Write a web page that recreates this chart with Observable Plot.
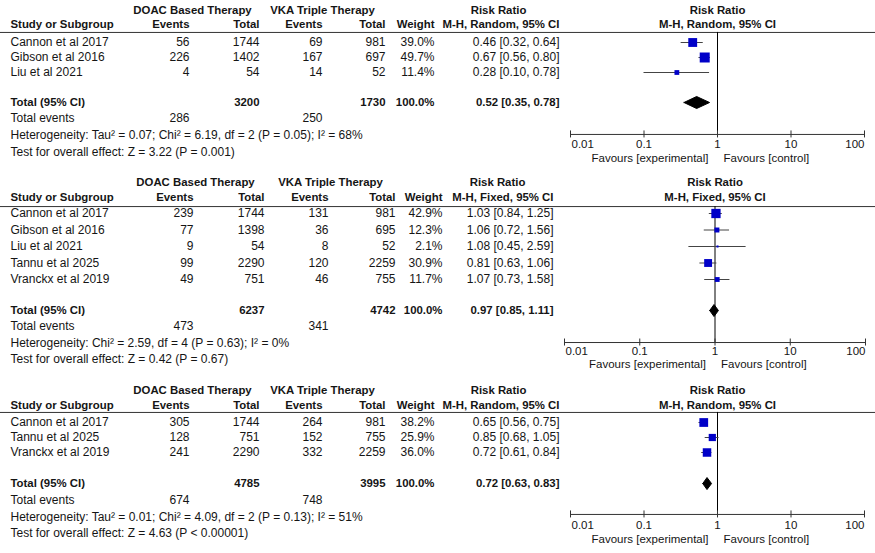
<!DOCTYPE html>
<html><head><meta charset="utf-8">
<script src="https://cdn.jsdelivr.net/npm/d3@7"></script>
<script src="https://cdn.jsdelivr.net/npm/@observablehq/plot@0.6"></script>
<style>
body{margin:0;background:#fff;}
#chart svg{display:block;}
</style></head><body><div id="chart"></div>
<script>
// ---------- shared labels ----------
const groupLabels = ["DOAC Based Therapy", "VKA Triple Therapy"];
const colHeaders = ["Study or Subgroup", "Events", "Total", "Events", "Total", "Weight"];
const rrLabel = "Risk Ratio";
const tickValues = [0.01, 0.1, 1, 10, 100];
const favourLabels = ["Favours [experimental]", "Favours [control]"];

// ---------- panel 1 ----------
const p1Studies = ["Cannon et al 2017", "Gibson et al 2016", "Liu et al 2021"];
const p1ExpEvents = [56, 226, 4];
const p1ExpTotal = [1744, 1402, 54];
const p1CtlEvents = [69, 167, 14];
const p1CtlTotal = [981, 697, 52];
const p1Weight = [39.0, 49.7, 11.4];
const p1RR = [0.46, 0.67, 0.28];
const p1Lo = [0.32, 0.56, 0.10];
const p1Hi = [0.64, 0.80, 0.78];
const p1Totals = [3200, 1730, 100.0];
const p1Pooled = [0.52, 0.35, 0.78];
const p1TotalEvents = [286, 250];
const p1Method = "M-H, Random, 95% CI";
const p1Het = "Heterogeneity: Tau² = 0.07; Chi² = 6.19, df = 2 (P = 0.05); I² = 68%";
const p1Test = "Test for overall effect: Z = 3.22 (P = 0.001)";

// ---------- panel 2 ----------
const p2Studies = ["Cannon et al 2017", "Gibson et al 2016", "Liu et al 2021", "Tannu et al 2025", "Vranckx et al 2019"];
const p2ExpEvents = [239, 77, 9, 99, 49];
const p2ExpTotal = [1744, 1398, 54, 2290, 751];
const p2CtlEvents = [131, 36, 8, 120, 46];
const p2CtlTotal = [981, 695, 52, 2259, 755];
const p2Weight = [42.9, 12.3, 2.1, 30.9, 11.7];
const p2RR = [1.03, 1.06, 1.08, 0.81, 1.07];
const p2Lo = [0.84, 0.72, 0.45, 0.63, 0.73];
const p2Hi = [1.25, 1.56, 2.59, 1.06, 1.58];
const p2Totals = [6237, 4742, 100.0];
const p2Pooled = [0.97, 0.85, 1.11];
const p2TotalEvents = [473, 341];
const p2Method = "M-H, Fixed, 95% CI";
const p2Het = "Heterogeneity: Chi² = 2.59, df = 4 (P = 0.63); I² = 0%";
const p2Test = "Test for overall effect: Z = 0.42 (P = 0.67)";

// ---------- panel 3 ----------
const p3Studies = ["Cannon et al 2017", "Tannu et al 2025", "Vranckx et al 2019"];
const p3ExpEvents = [305, 128, 241];
const p3ExpTotal = [1744, 751, 2290];
const p3CtlEvents = [264, 152, 332];
const p3CtlTotal = [981, 755, 2259];
const p3Weight = [38.2, 25.9, 36.0];
const p3RR = [0.65, 0.85, 0.72];
const p3Lo = [0.56, 0.68, 0.61];
const p3Hi = [0.75, 1.05, 0.84];
const p3Totals = [4785, 3995, 100.0];
const p3Pooled = [0.72, 0.63, 0.83];
const p3TotalEvents = [674, 748];
const p3Method = "M-H, Random, 95% CI";
const p3Het = "Heterogeneity: Tau² = 0.01; Chi² = 4.09, df = 2 (P = 0.13); I² = 51%";
const p3Test = "Test for overall effect: Z = 4.63 (P < 0.00001)";

const FONT = "'Liberation Sans', Arial, Helvetica, sans-serif";
const INK = "#151515";

function forestPanel(d) {
  const rows = d.studies.map((s, i) => ({
    i, s, ee: d.expEvents[i], et: d.expTotal[i], ce: d.ctlEvents[i], ct: d.ctlTotal[i],
    w: d.weight[i], rr: d.rr[i], lo: d.lo[i], hi: d.hi[i]
  }));
  const L = d.layout, C = d.cols, step = L.step;
  const B = {fontWeight: "bold", fontSize: 11.4};
  const txt = (data, o) => Plot.text(data, {frameAnchor: "left", fill: INK, fontSize: 12, text: (t) => t, ...o});
  const fmt = (v) => v.toFixed(2);
  const [pRR, pLo, pHi] = d.pooled;
  const dh = 6 / step;
  const diamond = [
    {x: pLo, y: L.total}, {x: pRR, y: L.total - dh}, {x: pHi, y: L.total}, {x: pRR, y: L.total + dh}, {x: pLo, y: L.total}
  ];
  const tk = 3.5 / step;
  const AX = 11.5;
  return Plot.plot({
    width: 875, height: d.height, margin: 0,
    x: {type: "log", domain: [0.01, 100], range: d.xRange, axis: null},
    y: {type: "linear", domain: [0, 1], range: [L.y0, L.y0 + step], axis: null},
    r: {type: "sqrt", domain: [0, 100], range: [0, 8]},
    style: {fontFamily: FONT, background: "white", overflow: "visible"},
    marks: [
      // header row 1
      txt([groupLabels[0]], {y: L.hdr1, dx: C.expHdr, textAnchor: "middle", ...B}),
      txt([groupLabels[1]], {y: L.hdr1, dx: C.ctlHdr, textAnchor: "middle", ...B}),
      txt([rrLabel], {y: L.hdr1, dx: C.rrHdr, textAnchor: "middle", ...B}),
      Plot.text([rrLabel], {x: 1, y: L.hdr1, text: (t) => t, textAnchor: "middle", fill: INK, ...B}),
      // header row 2
      txt([colHeaders[0]], {y: L.hdr2, dx: C.study, textAnchor: "start", ...B}),
      txt([colHeaders[1]], {y: L.hdr2, dx: C.ee, textAnchor: "end", ...B}),
      txt([colHeaders[2]], {y: L.hdr2, dx: C.et, textAnchor: "end", ...B}),
      txt([colHeaders[3]], {y: L.hdr2, dx: C.ce, textAnchor: "end", ...B}),
      txt([colHeaders[4]], {y: L.hdr2, dx: C.ct, textAnchor: "end", ...B}),
      txt([colHeaders[5]], {y: L.hdr2, dx: C.w, textAnchor: "end", ...B}),
      txt([d.method], {y: L.hdr2, dx: C.ci, textAnchor: "end", ...B}),
      Plot.text([d.method], {x: 1, y: L.hdr2, text: (t) => t, textAnchor: "middle", fill: INK, ...B}),
      Plot.ruleY([L.line], {y: (v) => v, stroke: "#333", strokeWidth: 1}),
      // study rows
      txt(rows, {y: "i", text: "s", dx: C.study, textAnchor: "start"}),
      txt(rows, {y: "i", text: (r) => String(r.ee), dx: C.ee, textAnchor: "end"}),
      txt(rows, {y: "i", text: (r) => String(r.et), dx: C.et, textAnchor: "end"}),
      txt(rows, {y: "i", text: (r) => String(r.ce), dx: C.ce, textAnchor: "end"}),
      txt(rows, {y: "i", text: (r) => String(r.ct), dx: C.ct, textAnchor: "end"}),
      txt(rows, {y: "i", text: (r) => r.w.toFixed(1) + "%", dx: C.w, textAnchor: "end"}),
      txt(rows, {y: "i", text: (r) => `${fmt(r.rr)} [${fmt(r.lo)}, ${fmt(r.hi)}]`, dx: C.ci, textAnchor: "end"}),
      // total row
      txt(["Total (95% CI)"], {y: L.total, dx: C.study, textAnchor: "start", ...B}),
      txt([String(d.totals[0])], {y: L.total, dx: C.et, textAnchor: "end", ...B}),
      txt([String(d.totals[1])], {y: L.total, dx: C.ct, textAnchor: "end", ...B}),
      txt([d.totals[2].toFixed(1) + "%"], {y: L.total, dx: C.w, textAnchor: "end", ...B}),
      txt([`${fmt(pRR)} [${fmt(pLo)}, ${fmt(pHi)}]`], {y: L.total, dx: C.ci, textAnchor: "end", ...B}),
      // total events
      txt(["Total events"], {y: L.events, dx: C.study, textAnchor: "start"}),
      txt([String(d.totalEvents[0])], {y: L.events, dx: C.ee, textAnchor: "end"}),
      txt([String(d.totalEvents[1])], {y: L.events, dx: C.ce, textAnchor: "end"}),
      txt([d.het], {y: L.het, dx: C.study, textAnchor: "start"}),
      txt([d.test], {y: L.test, dx: C.study, textAnchor: "start"}),
      // forest
      Plot.ruleX([1], {x: (v) => v, y1: L.line, y2: L.axis, stroke: "#000"}),
      Plot.ruleY(rows, {y: "i", x1: "lo", x2: "hi", stroke: "#444"}),
      Plot.dot(rows, {x: "rr", y: "i", r: "w", symbol: "square", fill: "#0000c8"}),
      Plot.line(diamond, {x: "x", y: "y", fill: "#000", stroke: "#000", strokeWidth: 1}),
      // axis
      Plot.ruleY([L.axis], {y: (v) => v, x1: tickValues[0], x2: tickValues[tickValues.length - 1], stroke: "#333"}),
      Plot.ruleX(tickValues, {x: (v) => v, y1: L.axis - tk, y2: L.axis + tk, stroke: "#333"}),
      Plot.text(tickValues.slice(0, 1), {x: (v) => v, y: L.tick, text: (v) => String(v), textAnchor: "start", dx: 1, fill: INK, fontSize: AX}),
      Plot.text(tickValues.slice(1, -1), {x: (v) => v, y: L.tick, text: (v) => String(v), textAnchor: "middle", fill: INK, fontSize: AX}),
      Plot.text(tickValues.slice(-1), {x: (v) => v, y: L.tick, text: (v) => String(v), textAnchor: "end", fill: INK, fontSize: AX}),
      Plot.text([favourLabels[0]], {x: 1, y: L.fav, text: (t) => t, textAnchor: "end", dx: -9, fill: INK, fontSize: AX}),
      Plot.text([favourLabels[1]], {x: 1, y: L.fav, text: (t) => t, textAnchor: "start", dx: 6, fill: INK, fontSize: AX})
    ]
  });
}

const colsA = {study: 10, expHdr: 192, ctlHdr: 322, rrHdr: 498, ee: 189, et: 259, ce: 322, ct: 385, w: 434, ci: 559};
const colsB = {study: 10, expHdr: 195, ctlHdr: 330, rrHdr: 497, ee: 193, et: 264, ce: 328, ct: 395, w: 442, ci: 553};

const panels = [
  {studies: p1Studies, expEvents: p1ExpEvents, expTotal: p1ExpTotal, ctlEvents: p1CtlEvents, ctlTotal: p1CtlTotal,
   weight: p1Weight, rr: p1RR, lo: p1Lo, hi: p1Hi, totals: p1Totals, pooled: p1Pooled, totalEvents: p1TotalEvents,
   method: p1Method, het: p1Het, test: p1Test, height: 170, xRange: [570, 864], cols: colsA,
   layout: {y0: 42, step: 15, hdr1: -2.13, hdr2: -1.2, line: -0.67, total: 4, events: 5.05, het: 6.2, test: 7.33, axis: 6.13, tick: 6.78, fav: 7.75}},
  {studies: p2Studies, expEvents: p2ExpEvents, expTotal: p2ExpTotal, ctlEvents: p2CtlEvents, ctlTotal: p2CtlTotal,
   weight: p2Weight, rr: p2RR, lo: p2Lo, hi: p2Hi, totals: p2Totals, pooled: p2Pooled, totalEvents: p2TotalEvents,
   method: p2Method, het: p2Het, test: p2Test, height: 205, xRange: [564, 865], cols: colsB,
   layout: {y0: 43, step: 16.5, hdr1: -1.88, hdr2: -0.97, line: -0.42, total: 5.88, events: 6.85, het: 7.88, test: 8.85, axis: 7.82, tick: 8.38, fav: 9.15}},
  {studies: p3Studies, expEvents: p3ExpEvents, expTotal: p3ExpTotal, ctlEvents: p3CtlEvents, ctlTotal: p3CtlTotal,
   weight: p3Weight, rr: p3RR, lo: p3Lo, hi: p3Hi, totals: p3Totals, pooled: p3Pooled, totalEvents: p3TotalEvents,
   method: p3Method, het: p3Het, test: p3Test, height: 178, xRange: [570, 864], cols: colsA,
   layout: {y0: 47, step: 15, hdr1: -2.13, hdr2: -1.13, line: -0.67, total: 4.07, events: 5.2, het: 6.33, test: 7.4, axis: 6.13, tick: 6.85, fav: 7.78}}
];

const root = document.getElementById("chart");
for (const p of panels) root.appendChild(forestPanel(p));
</script></body></html>
